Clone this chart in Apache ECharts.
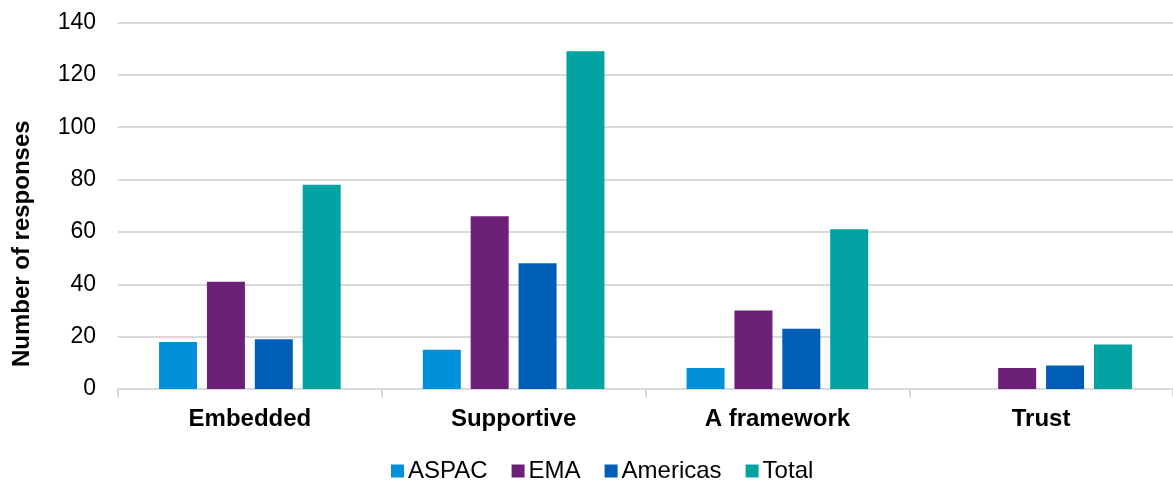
<!DOCTYPE html>
<html>
<head>
<meta charset="utf-8">
<script src="https://cdn.jsdelivr.net/npm/echarts@6/dist/echarts.min.js"></script>
<style>
html,body{margin:0;padding:0;background:#fff;}
#chart{width:1173px;height:481px;}
</style>
</head>
<body>
<div id="chart"></div>
<script>
var categories = ['Embedded', 'Supportive', 'A framework', 'Trust'];
var aspac = [18, 15, 8, 0];
var ema = [41, 66, 30, 8];
var americas = [19, 48, 23, 9];
var total = [78, 129, 61, 17];
var yTicks = {min: 0, max: 140, interval: 20};

var font = '"Liberation Sans", Arial, sans-serif';
var chart = echarts.init(document.getElementById('chart'));
function bar(name, data, color) {
  return {
    name: name, type: 'bar', data: data, barWidth: 38, barGap: '26%',
    itemStyle: {color: color}
  };
}
chart.setOption({
  animation: false,
  textStyle: {fontFamily: font},
  grid: {left: 118, top: 22.5, right: -4, bottom: 92, containLabel: false},
  legend: {
    top: 454, left: 386,
    itemWidth: 13, itemHeight: 13, itemGap: 24,
    icon: 'rect',
    textStyle: {fontSize: 24, color: '#000', fontFamily: font, padding: [0, 0, 0, -1]},
    data: ['ASPAC', 'EMA', 'Americas', 'Total']
  },
  xAxis: {
    type: 'category', data: categories,
    axisLine: {lineStyle: {color: '#d9d9d9', width: 2}},
    axisTick: {show: true, length: 8, lineStyle: {color: '#d9d9d9', width: 2}},
    axisLabel: {fontSize: 24, fontWeight: 'bold', color: '#000', margin: 18, fontFamily: font}
  },
  yAxis: {
    type: 'value', min: yTicks.min, max: yTicks.max, interval: yTicks.interval,
    name: 'Number of responses', nameLocation: 'middle', nameGap: 84, nameRotate: 90,
    nameTextStyle: {fontSize: 24, fontWeight: 'bold', color: '#000', fontFamily: font, padding: [0, 76, 0, 0]},
    axisLine: {show: false}, axisTick: {show: false},
    axisLabel: {fontSize: 23, color: '#000', margin: 22, fontFamily: font},
    splitLine: {lineStyle: {color: '#d9d9d9', width: 2}}
  },
  series: [
    bar('ASPAC', aspac, '#0091DA'),
    bar('EMA', ema, '#6D2077'),
    bar('Americas', americas, '#005EB8'),
    bar('Total', total, '#00A3A1')
  ]
});
</script>
</body>
</html>
